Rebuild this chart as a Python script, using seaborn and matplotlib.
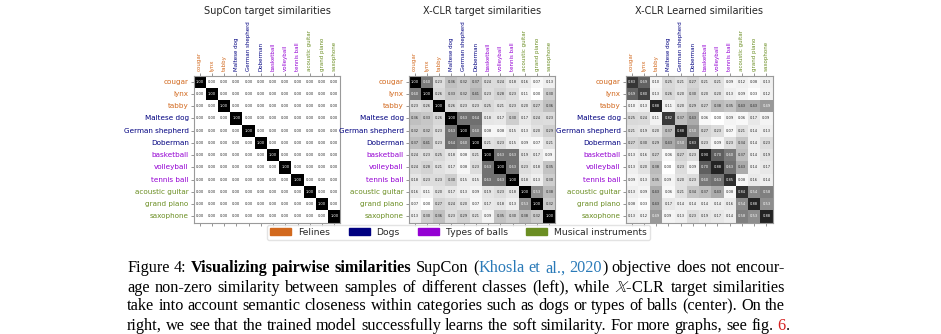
import matplotlib
matplotlib.use("Agg")
import matplotlib.pyplot as plt
from matplotlib.patches import Patch
import numpy as np
import pandas as pd
import seaborn as sns

# ---------------------------------------------------------------- data
classes = ["cougar", "lynx", "tabby", "Maltese dog", "German shepherd", "Doberman",
           "basketball", "volleyball", "tennis ball", "acoustic guitar", "grand piano",
           "saxophone"]
class_groups = ["Felines"] * 3 + ["Dogs"] * 3 + ["Types of balls"] * 3 + ["Musical instruments"] * 3
group_names = ["Felines", "Dogs", "Types of balls", "Musical instruments"]
group_colors = ["#d2691e", "#000080", "#9400d3", "#6b8e23"]

panel_titles = ["SupCon target similarities", "X-CLR target similarities",
                "X-CLR Learned similarities"]

supcon_target = [
    [1.00, 0.00, 0.00, 0.00, 0.00, 0.00, 0.00, 0.00, 0.00, 0.00, 0.00, 0.00],
    [0.00, 1.00, 0.00, 0.00, 0.00, 0.00, 0.00, 0.00, 0.00, 0.00, 0.00, 0.00],
    [0.00, 0.00, 1.00, 0.00, 0.00, 0.00, 0.00, 0.00, 0.00, 0.00, 0.00, 0.00],
    [0.00, 0.00, 0.00, 1.00, 0.00, 0.00, 0.00, 0.00, 0.00, 0.00, 0.00, 0.00],
    [0.00, 0.00, 0.00, 0.00, 1.00, 0.00, 0.00, 0.00, 0.00, 0.00, 0.00, 0.00],
    [0.00, 0.00, 0.00, 0.00, 0.00, 1.00, 0.00, 0.00, 0.00, 0.00, 0.00, 0.00],
    [0.00, 0.00, 0.00, 0.00, 0.00, 0.00, 1.00, 0.00, 0.00, 0.00, 0.00, 0.00],
    [0.00, 0.00, 0.00, 0.00, 0.00, 0.00, 0.00, 1.00, 0.00, 0.00, 0.00, 0.00],
    [0.00, 0.00, 0.00, 0.00, 0.00, 0.00, 0.00, 0.00, 1.00, 0.00, 0.00, 0.00],
    [0.00, 0.00, 0.00, 0.00, 0.00, 0.00, 0.00, 0.00, 0.00, 1.00, 0.00, 0.00],
    [0.00, 0.00, 0.00, 0.00, 0.00, 0.00, 0.00, 0.00, 0.00, 0.00, 1.00, 0.00],
    [0.00, 0.00, 0.00, 0.00, 0.00, 0.00, 0.00, 0.00, 0.00, 0.00, 0.00, 1.00],
]

xclr_target = [
    [1.00, 0.60, 0.23, 0.36, 0.32, 0.37, 0.24, 0.24, 0.18, 0.16, 0.07, 0.13],
    [0.60, 1.00, 0.26, 0.33, 0.32, 0.41, 0.23, 0.28, 0.23, 0.11, 0.00, 0.30],
    [0.23, 0.26, 1.00, 0.26, 0.23, 0.23, 0.25, 0.21, 0.23, 0.20, 0.27, 0.36],
    [0.36, 0.33, 0.26, 1.00, 0.63, 0.64, 0.18, 0.17, 0.30, 0.17, 0.24, 0.23],
    [0.32, 0.32, 0.23, 0.63, 1.00, 0.60, 0.08, 0.08, 0.15, 0.13, 0.20, 0.29],
    [0.37, 0.41, 0.23, 0.64, 0.60, 1.00, 0.21, 0.23, 0.15, 0.09, 0.07, 0.21],
    [0.24, 0.23, 0.25, 0.18, 0.08, 0.21, 1.00, 0.63, 0.63, 0.19, 0.17, 0.09],
    [0.24, 0.28, 0.21, 0.17, 0.08, 0.23, 0.63, 1.00, 0.63, 0.23, 0.18, 0.35],
    [0.18, 0.23, 0.23, 0.30, 0.15, 0.15, 0.63, 0.63, 1.00, 0.18, 0.13, 0.30],
    [0.16, 0.11, 0.20, 0.17, 0.13, 0.09, 0.19, 0.23, 0.18, 1.00, 0.53, 0.38],
    [0.07, 0.00, 0.27, 0.24, 0.20, 0.07, 0.17, 0.18, 0.13, 0.53, 1.00, 0.32],
    [0.13, 0.30, 0.36, 0.23, 0.29, 0.21, 0.09, 0.35, 0.30, 0.38, 0.32, 1.00],
]

xclr_learned = [
    [0.83, 0.69, 0.10, 0.25, 0.21, 0.27, 0.21, 0.21, 0.09, 0.12, 0.08, 0.13],
    [0.69, 0.80, 0.13, 0.26, 0.20, 0.30, 0.20, 0.20, 0.13, 0.09, 0.03, 0.12],
    [0.10, 0.13, 0.88, 0.11, 0.20, 0.29, 0.27, 0.38, 0.35, 0.43, 0.43, 0.49],
    [0.25, 0.24, 0.11, 0.82, 0.37, 0.43, 0.06, 0.00, 0.09, 0.06, 0.17, 0.09],
    [0.21, 0.19, 0.20, 0.37, 0.88, 0.50, 0.27, 0.23, 0.07, 0.21, 0.14, 0.13],
    [0.27, 0.30, 0.29, 0.43, 0.50, 0.83, 0.23, 0.09, 0.23, 0.34, 0.14, 0.23],
    [0.13, 0.16, 0.27, 0.06, 0.27, 0.23, 0.90, 0.70, 0.60, 0.37, 0.14, 0.19],
    [0.13, 0.20, 0.38, 0.00, 0.23, 0.09, 0.70, 0.88, 0.63, 0.43, 0.14, 0.17],
    [0.09, 0.13, 0.35, 0.09, 0.20, 0.23, 0.60, 0.63, 0.85, 0.08, 0.16, 0.14],
    [0.13, 0.09, 0.43, 0.06, 0.21, 0.34, 0.37, 0.43, 0.08, 0.84, 0.54, 0.58],
    [0.08, 0.03, 0.43, 0.17, 0.14, 0.14, 0.14, 0.14, 0.16, 0.54, 0.88, 0.53],
    [0.13, 0.12, 0.49, 0.09, 0.13, 0.23, 0.19, 0.17, 0.14, 0.58, 0.53, 0.88],
]

# Caption: *...* bold, [...] citation link, <...> figure reference
caption_lines = [
    "Figure 4: *Visualizing pairwise similarities* SupCon ([Khosla et al., 2020]) objective does not encour-",
    "age non-zero similarity between samples of different classes (left), while $\\mathbb{X}$-CLR target similarities",
    "take into account semantic closeness within categories such as dogs or types of balls (center). On the",
    "right, we see that the trained model successfully learns the soft similarity. For more graphs, see fig. <6>.",
]

# ---------------------------------------------------------------- figure
sns.set_style("white")
plt.rcParams["font.family"] = ["DejaVu Sans"]
plt.rcParams["mathtext.fontset"] = "stix"

W, H = 941, 334
fig = plt.figure(figsize=(W / 100, H / 100), dpi=100)
fig.patch.set_facecolor("white")


def px_axes(left, top, width, height):
    return fig.add_axes([left / W, 1 - (top + height) / H, width / W, height / H])


color_of = {g: c for g, c in zip(group_names, group_colors)}
label_colors = [color_of[g] for g in class_groups]

panel_left = [193.5, 408.5, 625.5]
panel_top, panel_size = 75.5, 147.0
matrices = [supcon_target, xclr_target, xclr_learned]

for left, mat, title in zip(panel_left, matrices, panel_titles):
    ax = px_axes(left, panel_top, panel_size, panel_size)
    df = pd.DataFrame(np.array(mat), index=classes, columns=classes)
    sns.heatmap(df, ax=ax, cmap="Greys", vmin=0, vmax=1, cbar=False,
                annot=True, fmt=".2f", annot_kws={"fontsize": 2.6})
    ax.xaxis.tick_top()
    ax.set_xticks(np.arange(len(classes)) + 0.5)
    ax.set_yticks(np.arange(len(classes)) + 0.5)
    ax.set_xticklabels(classes, rotation=90, fontsize=4.0)
    ax.set_yticklabels(classes, rotation=0, fontsize=5.2)
    ax.tick_params(axis="x", top=True, labeltop=True, bottom=True, labelbottom=False,
                   length=2, width=0.4, pad=1.5, color="#444444")
    ax.tick_params(axis="y", left=True, length=2, width=0.4, pad=1.5, color="#444444")
    for lbl, c in zip(ax.get_xticklabels(), label_colors):
        lbl.set_color(c)
    for lbl, c in zip(ax.get_yticklabels(), label_colors):
        lbl.set_color(c)
    ax.set_xlabel("")
    ax.set_ylabel("")
    for sp in ax.spines.values():
        sp.set_visible(True)
        sp.set_color("#9a9a9a")
        sp.set_linewidth(0.8)
    fig.text((left + panel_size / 2) / W, 1 - 10.5 / H, title, ha="center", va="center",
             fontsize=7)

# Legend for class groups
handles = [Patch(facecolor=c, edgecolor=c, label=g) for g, c in zip(group_names, group_colors)]
fig.legend(handles=handles, loc="center", bbox_to_anchor=(458.7 / W, 1 - 232.5 / H), ncol=4,
           fontsize=6.6, frameon=True, handlelength=2.3, handleheight=0.8,
           handletextpad=0.75, columnspacing=2.0, borderpad=0.35, edgecolor="#dddddd",
           fancybox=True)

# ---------------------------------------------------------------- caption
cap_font = ["Liberation Serif", "DejaVu Serif"]
cap_size = 11.7
cap_left, cap_right = 127.0, 785.0
cap_baselines = [272.5, 291.5, 310.5, 329.5]
cite_color = "#2a7ab8"
ref_color = "#d62020"

renderer = fig.canvas.get_renderer()


def parse_words(line, state):
    words = []
    for token in line.split(" "):
        segs = []
        buf = ""
        for ch in token:
            if ch in "*[]<>":
                if buf:
                    segs.append((buf, dict(state)))
                    buf = ""
                if ch == "*":
                    state["bold"] = not state["bold"]
                elif ch == "[":
                    state["color"] = cite_color
                elif ch == "<":
                    state["color"] = ref_color
                else:
                    state["color"] = "black"
            else:
                buf += ch
        if buf:
            segs.append((buf, dict(state)))
        words.append(segs)
    return words


state = {"bold": False, "color": "black"}
space_px = 0.25 * cap_size * 100 / 72
for li, line in enumerate(caption_lines):
    words = parse_words(line, state)
    y = 1 - cap_baselines[li] / H
    placed = []
    for segs in words:
        wtexts = []
        width = 0.0
        for s, st in segs:
            t = fig.text(0, y, s, fontsize=cap_size, family=cap_font,
                         fontweight="bold" if st["bold"] else "normal",
                         color=st["color"], ha="left", va="baseline")
            w = t.get_window_extent(renderer).width
            wtexts.append((t, w))
            width += w
        placed.append((wtexts, width))
    total = sum(w for _, w in placed)
    if li < len(caption_lines) - 1:
        gap = (cap_right - cap_left - total) / (len(placed) - 1)
    else:
        gap = space_px
    x = cap_left
    for wtexts, width in placed:
        xx = x
        for t, w in wtexts:
            t.set_x(xx / W)
            xx += w
        x += width + gap

fig.savefig("out.png", dpi=100, facecolor="white")
